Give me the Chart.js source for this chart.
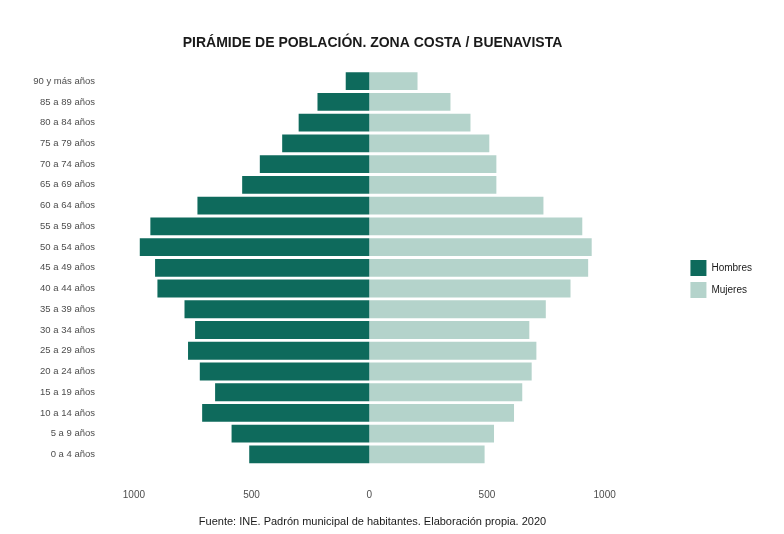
<!DOCTYPE html>
<html>
<head>
<meta charset="utf-8">
<script src="https://cdn.jsdelivr.net/npm/chart.js@4/dist/chart.umd.min.js"></script>
<style>
  html, body { margin: 0; padding: 0; background: #ffffff; }
  #wrap { width: 784px; height: 534px; }
</style>
</head>
<body>
<div id="wrap"><canvas id="c" width="784" height="534"></canvas></div>
<script>
// Age groups, top (oldest) to bottom (youngest)
const ageGroups = [
  "90 y más años", "85 a 89 años", "80 a 84 años", "75 a 79 años", "70 a 74 años",
  "65 a 69 años", "60 a 64 años", "55 a 59 años", "50 a 54 años", "45 a 49 años",
  "40 a 44 años", "35 a 39 años", "30 a 34 años", "25 a 29 años", "20 a 24 años",
  "15 a 19 años", "10 a 14 años", "5 a 9 años", "0 a 4 años"
];
// Population by sex (same order as ageGroups)
const hombres = [100, 220, 300, 370, 465, 540, 730, 930, 975, 910, 900, 785, 740, 770, 720, 655, 710, 585, 510];
const mujeres = [205, 345, 430, 510, 540, 540, 740, 905, 945, 930, 855, 750, 680, 710, 690, 650, 615, 530, 490];
const xTickValues = [-1000, -500, 0, 500, 1000];

const titleText = "PIRÁMIDE DE POBLACIÓN. ZONA COSTA / BUENAVISTA";
const captionText = "Fuente: INE. Padrón municipal de habitantes. Elaboración propia. 2020";

const fontFamily = "'Liberation Sans', Arial, sans-serif";

new Chart(document.getElementById('c'), {
  type: 'bar',
  data: {
    labels: ageGroups,
    datasets: [
      {
        label: 'Hombres',
        data: hombres.map(v => -v),
        backgroundColor: '#0e6a5c',
        borderWidth: 0,
        barPercentage: 0.86,
        categoryPercentage: 1.0
      },
      {
        label: 'Mujeres',
        data: mujeres,
        backgroundColor: '#b4d3cb',
        borderWidth: 0,
        barPercentage: 0.86,
        categoryPercentage: 1.0
      }
    ]
  },
  options: {
    indexAxis: 'y',
    responsive: false,
    animation: false,
    devicePixelRatio: 1,
    layout: { padding: { left: -17, right: 22, top: 0, bottom: 0 } },
    scales: {
      x: {
        stacked: true,
        min: -1144,
        max: 1339,
        grid: { display: false, drawTicks: false },
        border: { display: false },
        afterBuildTicks: (scale) => { scale.ticks = xTickValues.map(v => ({ value: v })); },
        afterFit: (scale) => { scale.height = 34; },
        ticks: {
          padding: 24,
          color: '#4d4d4d',
          font: { family: fontFamily, size: 10 },
          maxRotation: 0,
          callback: (v) => String(Math.abs(v))
        }
      },
      y: {
        stacked: true,
        grid: { display: false, drawTicks: false },
        border: { display: false },
        afterFit: (scale) => { scale.width = 117; },
        ticks: {
          padding: 5,
          color: '#4d4d4d',
          font: { family: fontFamily, size: 9.5 },
          autoSkip: false
        }
      }
    },
    plugins: {
      title: {
        display: true,
        text: titleText,
        color: '#1a1a1a',
        font: { family: fontFamily, size: 14, weight: 'bold' },
        padding: { top: 35, bottom: 19 }
      },
      subtitle: {
        display: true,
        position: 'bottom',
        text: captionText,
        color: '#1a1a1a',
        font: { family: fontFamily, size: 11 },
        padding: { top: 17, bottom: 5 }
      },
      legend: {
        position: 'right',
        align: 'center',
        title: { display: true, text: ' ', font: { size: 1 }, padding: { top: 23, bottom: 0 } },
        labels: {
          boxWidth: 16,
          boxHeight: 16,
          padding: 6,
          color: '#1a1a1a',
          font: { family: fontFamily, size: 10 }
        }
      },
      tooltip: { enabled: false }
    }
  }
});
</script>
</body>
</html>
